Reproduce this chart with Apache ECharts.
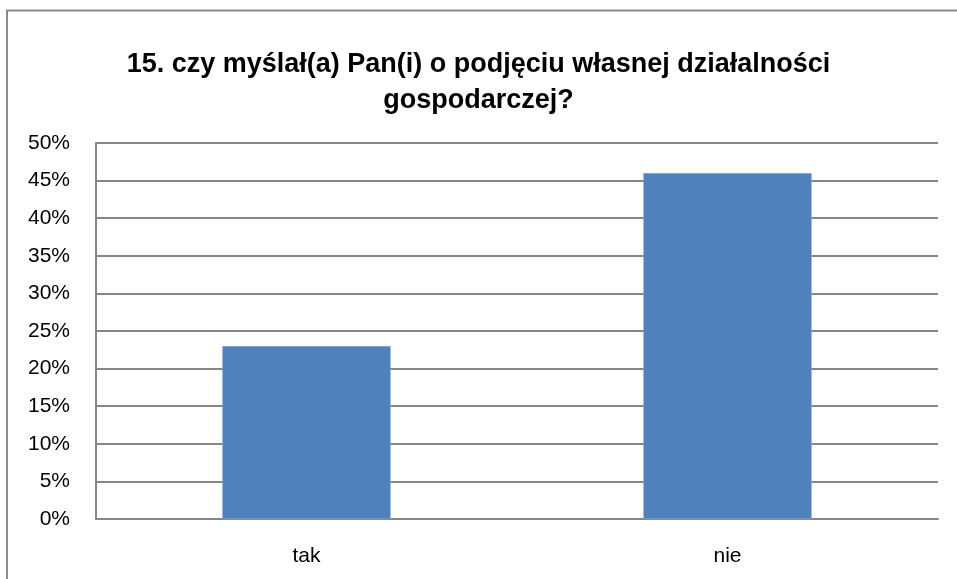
<!DOCTYPE html>
<html>
<head>
<meta charset="utf-8">
<script src="https://cdn.jsdelivr.net/npm/echarts@6/dist/echarts.min.js"></script>
<style>
html, body { margin: 0; padding: 0; background: #fff; }
#chart { width: 957px; height: 579px; }
</style>
</head>
<body>
<div id="chart"></div>
<script>
// dane
var categories = ['tak', 'nie'];
var values = [23, 46];
var yTicks = [0, 5, 10, 15, 20, 25, 30, 35, 40, 45, 50];

var chart = echarts.init(document.getElementById('chart'));
chart.setOption({
    animation: false,
    backgroundColor: '#fff',
    textStyle: { fontFamily: 'Liberation Sans' },
    title: {
        text: '15. czy myślał(a) Pan(i) o podjęciu własnej działalności\ngospodarczej?',
        left: 'center',
        top: 42,
        textStyle: {
            fontFamily: 'Liberation Sans',
            fontSize: 27,
            fontWeight: 'bold',
            color: '#000',
            lineHeight: 36
        }
    },
    graphic: [{
        type: 'polyline',
        shape: { points: [[7, 579], [7, 10.5], [957, 10.5]] },
        style: { stroke: '#8c8c8c', lineWidth: 2, fill: null }
    }],
    grid: { left: 96, right: 19, top: 143, bottom: 60 },
    xAxis: {
        type: 'category',
        data: categories,
        axisLine: { show: true, lineStyle: { color: '#868686', width: 2 } },
        axisTick: { show: false },
        axisLabel: { color: '#000', fontSize: 21, margin: 27 }
    },
    yAxis: {
        type: 'value',
        min: yTicks[0],
        max: yTicks[yTicks.length - 1],
        interval: 5,
        axisLine: { show: true, lineStyle: { color: '#868686', width: 2 } },
        axisTick: { show: false },
        splitLine: { show: true, lineStyle: { color: '#868686', width: 2 } },
        axisLabel: {
            color: '#000',
            fontSize: 21,
            margin: 26,
            formatter: function (v) { return v + '%'; }
        }
    },
    series: [{
        type: 'bar',
        data: values,
        barWidth: '40%',
        itemStyle: { color: '#4f81bd', borderColor: '#8eb4e3', borderWidth: 0.5 }
    }]
});
</script>
</body>
</html>
